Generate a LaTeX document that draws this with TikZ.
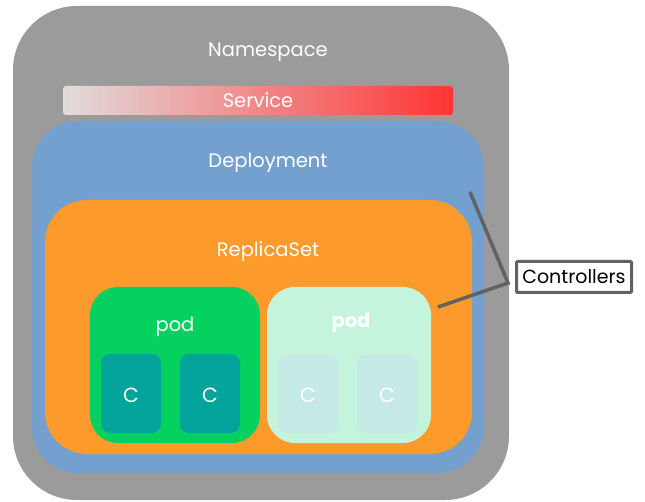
\documentclass[tikz,border=0pt]{standalone}
\usepackage{fontspec}
\setmainfont{Poppins}
\definecolor{nsgray}{HTML}{9B9B9B}
\definecolor{depblue}{HTML}{74A0CF}
\definecolor{rsorange}{HTML}{FD9A2C}
\definecolor{podgreen}{HTML}{05D15F}
\definecolor{ctrteal}{HTML}{04A39C}
\definecolor{podpale}{HTML}{C4F4DC}
\definecolor{ctrpale}{HTML}{C5E9E5}
\definecolor{svcleft}{HTML}{E2DCDC}
\definecolor{svcright}{HTML}{FF3434}
\definecolor{linkgray}{HTML}{626262}
\begin{document}
\begin{tikzpicture}[x=1pt,y=-1pt,
  area/.style={inner sep=0pt, outer sep=0pt, anchor=north west},
  lbl/.style={text=white, font=\fontsize{19.5}{23}\selectfont, anchor=base, inner sep=0pt},
  link/.style={draw=linkgray, line width=3.5pt}]
\useasboundingbox (0,0) rectangle (645,502);
% nested containers
\node[area, fill=nsgray, rounded corners=64pt, minimum width=496pt, minimum height=494pt] (ns) at (13,6) {};
\node[area, rounded corners=3pt, left color=svcleft, right color=svcright, minimum width=390pt, minimum height=29pt] (svc) at (63,86) {};
\node[area, fill=depblue, rounded corners=46pt, minimum width=452pt, minimum height=352pt] (dep) at (32,121) {};
\node[area, fill=rsorange, rounded corners=42pt, minimum width=427pt, minimum height=254pt] (rs) at (45,200) {};
% pods
\node[area, fill=podgreen, rounded corners=28pt, minimum width=170pt, minimum height=156pt] (pod1) at (90,287) {};
\node[area, fill=podpale, rounded corners=28pt, minimum width=164pt, minimum height=156pt] (pod2) at (267,287) {};
% containers
\node[area, fill=ctrteal, rounded corners=9pt, minimum width=60pt, minimum height=79pt] (c1) at (101,354) {};
\node[area, fill=ctrteal, rounded corners=9pt, minimum width=60pt, minimum height=79pt] (c2) at (180,354) {};
\node[area, fill=ctrpale, rounded corners=9pt, minimum width=60pt, minimum height=78pt] (c3) at (278,355) {};
\node[area, fill=ctrpale, rounded corners=9pt, minimum width=60pt, minimum height=78pt] (c4) at (357,355) {};
% labels
\node[lbl] (nslbl) at (268,57) {Namespace};
\node[lbl] (svclbl) at (258,108) {Service};
\node[lbl] (deplbl) at (268,168) {Deployment};
\node[lbl] (rslbl) at (268,257) {ReplicaSet};
\node[lbl] (pod1lbl) at (175,332) {pod};
\node[lbl, font=\fontsize{19.5}{23}\selectfont\bfseries] (pod2lbl) at (351,328) {pod};
\node[lbl, font=\fontsize{20.5}{24}\selectfont] (c1lbl) at (131,402) {C};
\node[lbl, font=\fontsize{20.5}{24}\selectfont] (c2lbl) at (210,402) {C};
\node[lbl, font=\fontsize{20.5}{24}\selectfont] (c3lbl) at (308,402) {C};
\node[lbl, font=\fontsize{20.5}{24}\selectfont] (c4lbl) at (387,402) {C};
% controllers callout
\node[draw=linkgray, line width=3pt, fill=white, rounded corners=1pt, minimum width=115pt, minimum height=31pt, inner sep=0pt, font=\fontsize{19}{23}\selectfont] (ctrl) at (574,277) {Controllers};
\coordinate (joint) at (508,283);
\coordinate (depend) at (470,192);
\coordinate (podend) at (438,307);
\draw[link] (depend) -- (joint) -- (podend);
\end{tikzpicture}
\end{document}
